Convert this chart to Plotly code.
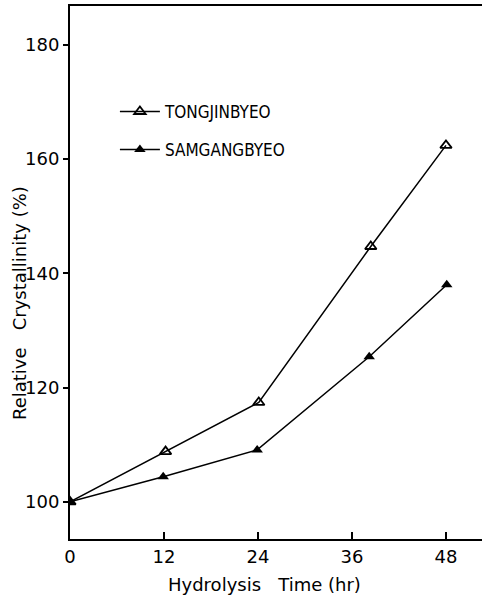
import plotly.graph_objects as go

hours_t = [0, 12.2, 24.1, 38.4, 48.0]
tongjin = [100, 108.8, 117.4, 144.7, 162.4]
hours_s = [0, 11.9, 23.9, 38.2, 48.1]
samgang = [100, 104.4, 109.1, 125.4, 138.0]
x_ticks = [0, 12, 24, 36, 48]
y_ticks = [100, 120, 140, 160, 180]

fig = go.Figure()
fig.add_trace(go.Scatter(x=hours_t, y=tongjin, mode="lines+markers", name="TONGJINBYEO", legendgroup="a",
                         line=dict(color="black", width=1.5),
                         marker=dict(symbol="triangle-up-open", size=10, color="black", line=dict(width=1.8))))
fig.add_trace(go.Scatter(x=hours_s, y=samgang, mode="lines+markers", name="SAMGANGBYEO", legendgroup="b",
                         line=dict(color="black", width=1.5),
                         marker=dict(symbol="triangle-up", size=10, color="black")))

fig.update_layout(
    width=482, height=601,
    margin=dict(l=70, r=0, t=6, b=62),
    paper_bgcolor="white", plot_bgcolor="white",
    font=dict(family="DejaVu Sans", color="black"),
    showlegend=True,
    legend=dict(x=0.109, y=0.835, xanchor="left", yanchor="top", bgcolor="rgba(0,0,0,0)",
                font=dict(family="Liberation Sans Narrow, DejaVu Sans Condensed", size=17),
                tracegroupgap=13, itemwidth=40),
    xaxis=dict(range=[0, 52.6], tickvals=x_ticks, showgrid=False, zeroline=False, automargin=False,
               showline=True, linecolor="black", linewidth=2, mirror=True,
               ticks="inside", ticklen=7, tickcolor="black", tickwidth=1.5,
               tickfont=dict(size=18)),
    yaxis=dict(range=[93.5, 186.8], tickvals=y_ticks, showgrid=False, zeroline=False, automargin=False,
               showline=True, linecolor="black", linewidth=2,
               ticks="outside", ticklen=5, tickcolor="black", tickwidth=1.5,
               tickfont=dict(size=18)),
    annotations=[
        dict(text="Hydrolysis\u00a0\u00a0\u00a0Time\u00a0(hr)", xref="paper", yref="paper",
             x=0.471, y=-0.086, xanchor="center", yanchor="middle", showarrow=False, font=dict(size=18)),
        dict(text="Relative\u00a0\u00a0\u00a0Crystallinity\u00a0(%)", xref="paper", yref="paper",
             x=-0.121, y=0.443, xanchor="center", yanchor="middle", showarrow=False, textangle=-90,
             font=dict(size=18)),
    ],
)
fig.write_html("out.html", config={"displayModeBar": False},
               post_script="document.body.style.margin='0';document.body.style.padding='0';document.body.style.overflow='hidden';")
